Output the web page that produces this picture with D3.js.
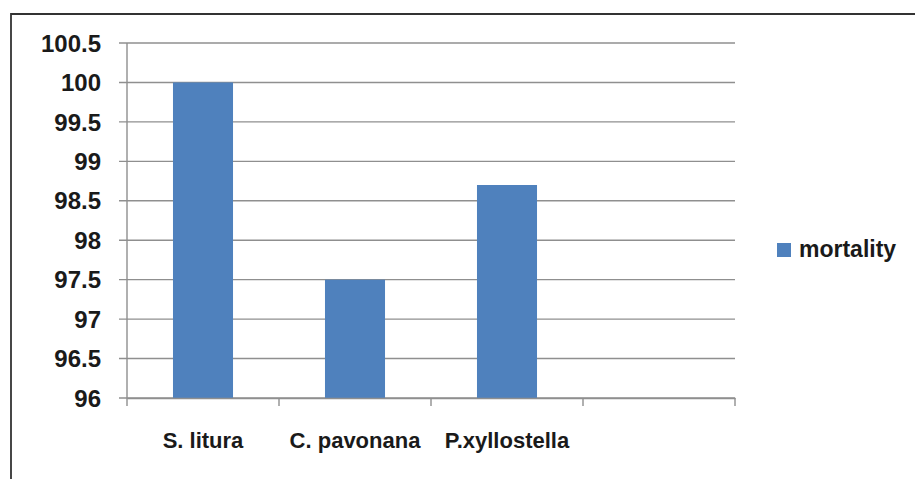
<!DOCTYPE html>
<html>
<head>
<meta charset="utf-8">
<script src="https://cdn.jsdelivr.net/npm/d3@7"></script>
<style>
  body { margin: 0; background: #fff; }
  svg text { font-family: "Liberation Sans", Arial, sans-serif; fill: #1a1a1a; font-weight: bold; }
</style>
</head>
<body>
<div id="chart"></div>
<script>
// chart data
const categories = ["S. litura", "C. pavonana", "P.xyllostella", ""];
const mortality = [100, 97.5, 98.7];
const yTicks = [96, 96.5, 97, 97.5, 98, 98.5, 99, 99.5, 100, 100.5];
const seriesName = "mortality";

const width = 915, height = 479;
const plot = { left: 127, right: 735, top: 43, bottom: 398 };

const svg = d3.select('#chart')
  .append('svg')
  .attr('width', width)
  .attr('height', height);

// outer frame (only top and left visible in the crop)
svg.append('path')
  .attr('d', `M11,${height + 5} L11,14 L${width + 5},14`)
  .attr('fill', 'none')
  .attr('stroke', '#333')
  .attr('stroke-width', 1.8);

const x = d3.scaleBand()
  .domain(categories.map((c, i) => i))
  .range([plot.left, plot.right])
  .padding(0);

const y = d3.scaleLinear()
  .domain([96, 100.5])
  .range([plot.bottom, plot.top]);

// gridlines
svg.append('g')
  .selectAll('line')
  .data(yTicks)
  .enter()
  .append('line')
  .attr('x1', plot.left - 8)
  .attr('x2', plot.right)
  .attr('y1', d => y(d))
  .attr('y2', d => y(d))
  .attr('stroke', '#8f8f8f')
  .attr('stroke-width', 1.4);

// y axis labels
svg.append('g')
  .selectAll('text')
  .data(yTicks)
  .enter()
  .append('text')
  .attr('x', 101)
  .attr('y', d => y(d))
  .attr('dy', '0.36em')
  .attr('text-anchor', 'end')
  .attr('font-size', '24px')
  .text(d => d);

// bars
const barW = x.bandwidth() * 0.395;
svg.append('g')
  .selectAll('rect')
  .data(mortality)
  .enter()
  .append('rect')
  .attr('x', (d, i) => x(i) + (x.bandwidth() - barW) / 2)
  .attr('y', d => y(d))
  .attr('width', barW)
  .attr('height', d => plot.bottom - y(d))
  .attr('fill', '#4f81bd');

// axis lines
svg.append('line')
  .attr('x1', plot.left).attr('x2', plot.left)
  .attr('y1', plot.top).attr('y2', plot.bottom)
  .attr('stroke', '#8f8f8f').attr('stroke-width', 1.4);

const xAxis = svg.append('g')
  .attr('transform', `translate(0,${plot.bottom})`)
  .call(d3.axisBottom(x)
    .tickValues([])
    .tickSizeOuter(0));
xAxis.select('.domain')
  .attr('stroke', '#8f8f8f')
  .attr('stroke-width', 1.4);

// category separator ticks
const tickPos = categories.map((c, i) => x(i)).concat([plot.right]);
svg.append('g')
  .selectAll('line')
  .data(tickPos)
  .enter()
  .append('line')
  .attr('x1', d => d).attr('x2', d => d)
  .attr('y1', plot.bottom).attr('y2', plot.bottom + 8)
  .attr('stroke', '#8f8f8f')
  .attr('stroke-width', 1.4);

// category labels
svg.append('g')
  .selectAll('text')
  .data(categories)
  .enter()
  .append('text')
  .attr('x', (d, i) => x(i) + x.bandwidth() / 2)
  .attr('y', 448)
  .attr('text-anchor', 'middle')
  .attr('font-size', '22px')
  .text(d => d);

// legend
const legend = svg.append('g').attr('transform', 'translate(777,243)');
legend.append('rect')
  .attr('width', 14).attr('height', 14)
  .attr('fill', '#4f81bd');
legend.append('text')
  .attr('x', 22)
  .attr('y', 14)
  .attr('font-size', '23px')
  .text(seriesName);
</script>
</body>
</html>
